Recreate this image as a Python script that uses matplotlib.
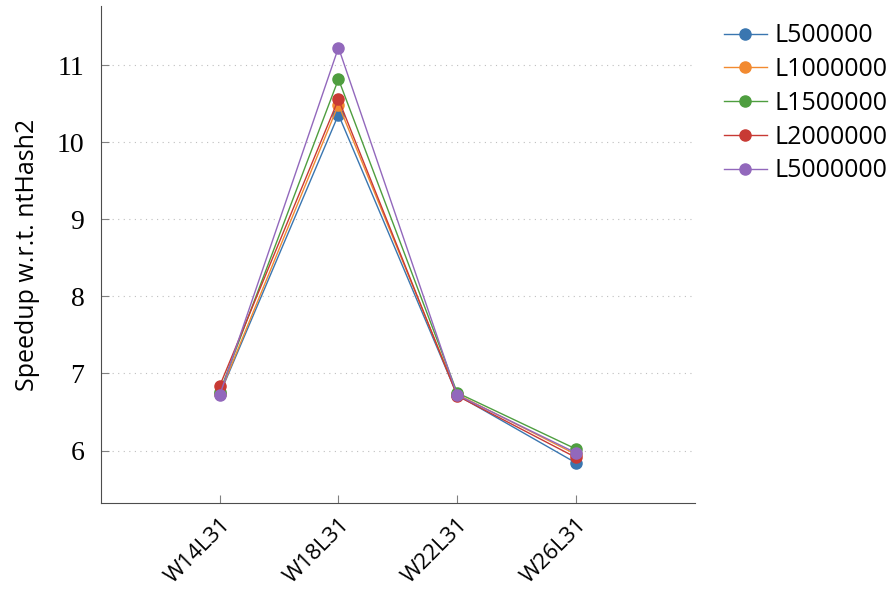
import numpy as np
import matplotlib.pyplot as plt

# Configurations on the x axis
configs = ["W14L31", "W18L31", "W22L31", "W26L31"]

# Speedup per sequence length
series_names = ["L500000", "L1000000", "L1500000", "L2000000", "L5000000"]
L500000 = [6.73, 10.36, 6.72, 5.84]
L1000000 = [6.74, 10.49, 6.73, 5.95]
L1500000 = [6.76, 10.82, 6.75, 6.02]
L2000000 = [6.84, 10.56, 6.71, 5.91]
L5000000 = [6.72, 11.23, 6.72, 5.97]
speedups = [L500000, L1000000, L1500000, L2000000, L5000000]

colors = ["#3a76b0", "#f28a30", "#4e9e3f", "#c83a34", "#9268bc"]

fig = plt.figure(figsize=(8.94, 5.98), dpi=100)
ax = fig.add_axes([0.113, 0.159, 0.664, 0.831])

x = np.arange(len(configs))
for name, vals, c in zip(series_names, speedups, colors):
    ax.plot(x, vals, '-o', color=c, lw=1, ms=8, label=name)

ax.set_xlim(-1, 4)
ax.set_ylim(5.32, 11.77)
ax.set_xticks(x)
ax.set_xticklabels(configs, rotation=45, ha='right', rotation_mode='anchor',
                   family='Open Sans', fontsize=16)
ax.set_yticks([6, 7, 8, 9, 10, 11])
for lab in ax.get_yticklabels():
    lab.set_family('Liberation Serif')
    lab.set_fontsize(20)

ax.tick_params(axis='both', direction='in', length=6, color='0.5')
ax.tick_params(axis='y', pad=12)
ax.tick_params(axis='x', pad=8)
ax.grid(axis='y', linestyle=(0, (1, 4)), color='0.75', lw=0.8)
ax.set_axisbelow(True)

ax.spines['top'].set_visible(False)
ax.spines['right'].set_visible(False)
ax.spines['left'].set_color('0.3')
ax.spines['bottom'].set_color('0.3')

ax.set_ylabel("Speedup w.r.t. ntHash2", family='Open Sans', fontsize=18,
              labelpad=12)

ax.legend(loc='upper left', bbox_to_anchor=(1.02, 1.0), frameon=False,
          prop={'family': 'Open Sans', 'size': 18}, handlelength=1.7,
          handletextpad=0.3, labelspacing=0.35, borderaxespad=0.3)

plt.savefig("out.png", dpi=100)
